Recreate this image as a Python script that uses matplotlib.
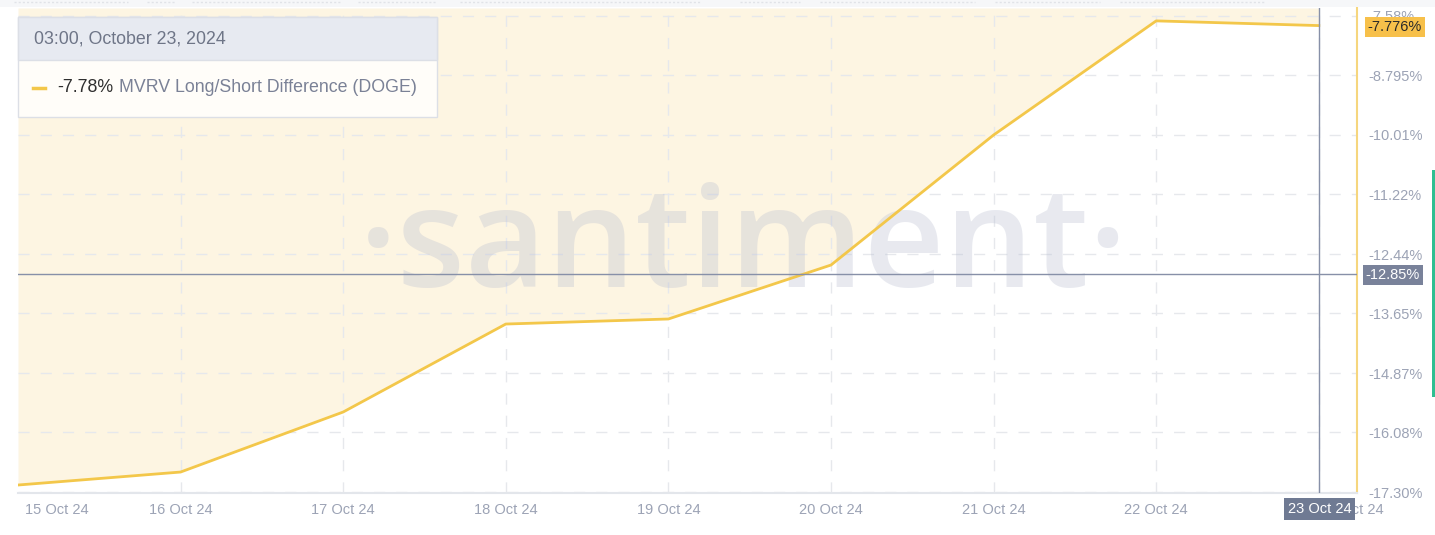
import matplotlib
matplotlib.use("Agg")
import matplotlib.pyplot as plt
import matplotlib.transforms as mtransforms
from matplotlib.patches import Rectangle
from matplotlib.lines import Line2D
import numpy as np

# ---- data ----
dates = ["15 Oct 24", "16 Oct 24", "17 Oct 24", "18 Oct 24", "19 Oct 24",
         "20 Oct 24", "21 Oct 24", "22 Oct 24", "23 Oct 24"]
mvrv_diff = [-17.157, -16.892, -15.666, -13.870, -13.767,
             -12.665, -10.010, -7.680, -7.776]
y_ticks = [-17.30, -16.08, -14.87, -13.65, -12.44, -11.22, -10.01, -8.795, -7.58]
y_tick_labels = ["-17.30%", "-16.08%", "-14.87%", "-13.65%", "-12.44%",
                 "-11.22%", "-10.01%", "-8.795%", "-7.58%"]
last_value_label = "-7.776%"
cursor_value = -12.85
cursor_value_label = "-12.85%"
cursor_date_label = "23 Oct 24"
legend_header = "03:00, October 23, 2024"
legend_value = "-7.78%"
legend_name = "MVRV Long/Short Difference (DOGE)"

W, H = 1435, 535
FONT = ["Liberation Sans", "DejaVu Sans"]
plt.rcParams['font.family'] = FONT

LINE = "#f3c74a"
FILL = "#fdf5e2"
GRID = "#e6e8ec"
TICK = "#9ca3b5"
CROSS = "#8790a8"

fig = plt.figure(figsize=(W / 100, H / 100), dpi=100)
fig.patch.set_facecolor("white")

def fx(x):
    return x / W

def fy(y):
    return 1 - y / H

# axes in pixel coords: left 18, right 1357, top 8, bottom 493
ax = fig.add_axes([fx(18), fy(493), fx(1357 - 18), (493 - 8) / H])
x = np.arange(len(mvrv_diff))
day_px = 162.6
ymin, ymax = -17.32, -7.417
ax.set_xlim(0, (1357 - 18) / day_px)
ax.set_ylim(ymin, ymax)

ax.fill_between(x, mvrv_diff, ymax, color=FILL, lw=0, zorder=1)
for xv in x[1:]:
    ax.axvline(xv, color=GRID, lw=1, dashes=(8, 8), zorder=2)
for yv in y_ticks:
    ax.axhline(yv, color=GRID, lw=1, dashes=(8, 8), zorder=2)

# watermark
ax.text(0.542, 0.50, "\u00b7santiment\u00b7", transform=ax.transAxes,
        ha="center", va="center", fontsize=101, fontweight="semibold",
        family=["Open Sans", "DejaVu Sans"],
        color="#b8bdd0", alpha=0.32, zorder=3)

ax.plot(x, mvrv_diff, color=LINE, lw=2, zorder=5, solid_joinstyle="round")

# crosshair
ax.axhline(cursor_value, color=CROSS, lw=1, zorder=6)
ax.axvline(x[-1], color=CROSS, lw=1, zorder=6)

for s in ["top", "left"]:
    ax.spines[s].set_visible(False)
ax.spines["right"].set_color("#f6d67e")
ax.spines["right"].set_linewidth(1.5)
ax.spines["bottom"].set_color("#e3e6eb")
ax.spines["bottom"].set_linewidth(1.5)
ax.set_facecolor("white")

ax.yaxis.tick_right()
ax.set_yticks(y_ticks)
ax.set_yticklabels(y_tick_labels)
ax.tick_params(axis="y", length=0, pad=8, labelsize=10.5, labelcolor=TICK)
ax.set_xticks(x)
ax.set_xticklabels(dates)
ax.tick_params(axis="x", length=0, pad=7, labelsize=10.5, labelcolor=TICK)
xl = ax.get_xticklabels()
xl[0].set_ha("left")
xl[0].set_transform(xl[0].get_transform() + mtransforms.ScaledTranslation(7 / 100, 0, fig.dpi_scale_trans))
xl[-1].set_transform(xl[-1].get_transform() + mtransforms.ScaledTranslation(33 / 100, 0, fig.dpi_scale_trans))

# top UI strip
fig.add_artist(Rectangle((0, fy(7)), 1, 7 / H, transform=fig.transFigure,
                         facecolor="#f6f7f9", edgecolor="none", zorder=0.5))
for x0, x1 in [(14, 128), (147, 175), (192, 340), (358, 436), (460, 700), (740, 800),
               (820, 975), (995, 1100), (1120, 1265)]:
    fig.add_artist(Line2D([fx(x0), fx(x1)], [fy(2), fy(2)], transform=fig.transFigure,
                          color="#e1e3e8", lw=1, dashes=(1.5, 1.5), zorder=0.6))

# value boxes on the right axis
fig.text(fx(1395), fy(27), last_value_label, ha="center", va="center", fontsize=10.5,
         color="#2a2a2a", zorder=5,
         bbox=dict(boxstyle="square,pad=0.2", facecolor="#f7c04a", edgecolor="none"))
fig.text(fx(1393), fy(275), cursor_value_label, ha="center", va="center", fontsize=10.5,
         color="white", zorder=5,
         bbox=dict(boxstyle="square,pad=0.2", facecolor="#79829a", edgecolor="none"))
fig.text(fx(1319.5), fy(509), cursor_date_label, ha="center", va="center", fontsize=10.5,
         color="white", zorder=5,
         bbox=dict(boxstyle="square,pad=0.25", facecolor="#6f7a93", edgecolor="none"))

# legend / tooltip box
fig.add_artist(Rectangle((fx(18), fy(117)), fx(437 - 18), 100 / H, transform=fig.transFigure,
                         facecolor="#fffdf9", edgecolor="#dcdfe6", lw=1, zorder=3))
fig.add_artist(Rectangle((fx(18), fy(60)), fx(437 - 18), 43 / H, transform=fig.transFigure,
                         facecolor="#e7eaf1", edgecolor="#dcdfe6", lw=1, zorder=3.1))
fig.text(fx(34), fy(38.5), legend_header, ha="left", va="center", fontsize=12.8,
         color="#6e7587", zorder=4)
fig.add_artist(Line2D([fx(33), fx(45)], [fy(88), fy(88)], transform=fig.transFigure,
                      color=LINE, lw=2.5, zorder=4))
fig.text(fx(57), fy(88), legend_value, ha="left", va="center", fontsize=12.8,
         color="#2f2f2f", zorder=4)
fig.text(fx(119), fy(88), legend_name, ha="left", va="center", fontsize=12.8,
         color="#7a8196", zorder=4)

# scroll indicator at right edge
fig.add_artist(Rectangle((fx(1432), fy(397)), fx(3), 227 / H, transform=fig.transFigure,
                         facecolor="#2fbf91", edgecolor="none", zorder=3))

fig.savefig("out.png", dpi=100, facecolor="white")
